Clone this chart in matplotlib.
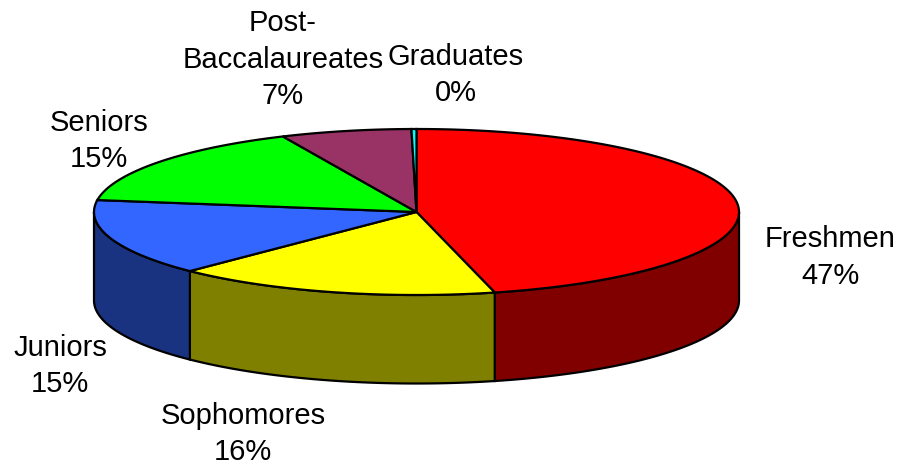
import numpy as np
import matplotlib
matplotlib.use("Agg")
import matplotlib.pyplot as plt

categories = ["Freshmen", "Sophomores", "Juniors", "Seniors", "Post-\nBaccalaureates", "Graduates"]
values = [46.1, 16.3, 14.9, 15.9, 6.55, 0.25]
shown_pct = ["47%", "16%", "15%", "15%", "7%", "0%"]
top_colors = ["#FF0000", "#FFFF00", "#3366FF", "#00FF00", "#993366", "#00FFFF"]
side_colors = ["#800000", "#808000", "#1A3380", "#008000", "#4D1A33", "#008080"]
# centre of each label block
label_pos = [(830, 254.5), (243, 431), (60, 363), (99, 138), (283, 56.5), (456, 72)]

# pie geometry in image pixels
CX, CY = 416.5, 212
A, B = 322.5, 83
DEPTH = 88.5
LINE_STEP = 36.5

plt.rcParams["font.family"] = ["Liberation Sans", "DejaVu Sans"]


def rim(t):
    # t is degrees clockwise from 12 o'clock
    r = np.radians(t)
    return CX + A * np.sin(r), CY - B * np.cos(r)


fig = plt.figure(figsize=(9.01, 4.65), dpi=100)
ax = fig.add_axes([0, 0, 1, 1])
ax.set_xlim(0, 901)
ax.set_ylim(465, 0)
ax.axis("off")

edges = np.concatenate([[0], np.cumsum(values)]) / np.sum(values) * 360

# side wall, only the front half of the rim shows
for i in range(len(values)):
    t0 = max(edges[i], 90)
    t1 = min(edges[i + 1], 270)
    if t1 <= t0:
        continue
    t = np.linspace(t0, t1, 200)
    x, y = rim(t)
    xs = np.concatenate([x, x[::-1]])
    ys = np.concatenate([y, y[::-1] + DEPTH])
    ax.fill(xs, ys, facecolor=side_colors[i], edgecolor="black", lw=1.6, zorder=1)

# top face
for i in range(len(values)):
    t = np.linspace(edges[i], edges[i + 1], 300)
    x, y = rim(t)
    xs = np.concatenate([[CX], x])
    ys = np.concatenate([[CY], y])
    ax.fill(xs, ys, facecolor=top_colors[i], edgecolor="black", lw=1.6, zorder=2)

# one text per line so the spacing can follow the reference
for name, pct, (lx, ly) in zip(categories, shown_pct, label_pos):
    lines = name.split("\n") + [pct]
    for k, line in enumerate(lines):
        ax.text(lx, ly + (k - (len(lines) - 1) / 2) * LINE_STEP, line, ha="center",
                va="center_baseline", fontsize=21, color="black", zorder=3)

fig.savefig("out.png", dpi=100)
